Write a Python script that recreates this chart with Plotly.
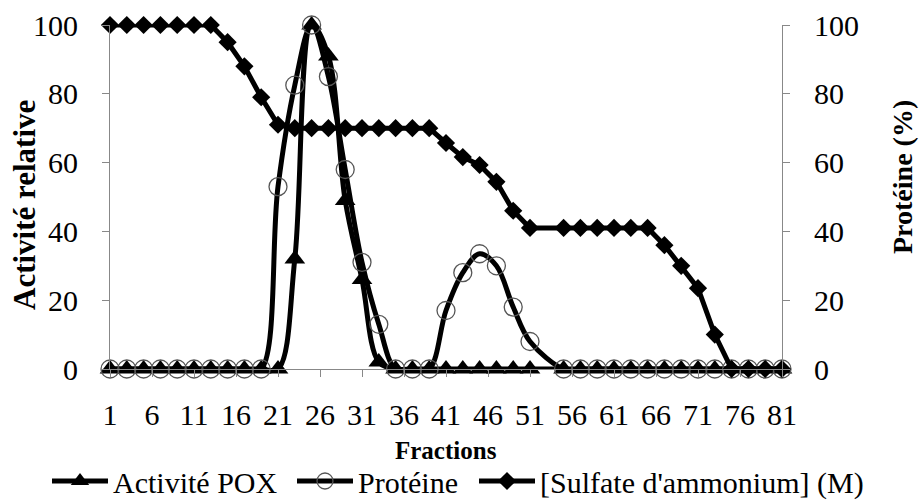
import plotly.graph_objects as go

fractions = [1, 3, 5, 7, 9, 11, 13, 15, 17, 19, 21, 23, 25, 27, 29, 31, 33, 35, 37, 39,
             41, 43, 45, 47, 49, 51, 55, 57, 59, 61, 63, 65, 67, 69, 71, 73, 75, 77, 79, 81]
activite_pox = [0, 0, 0, 0, 0, 0, 0, 0, 0, 0, 0, 32, 100, 91, 49, 26, 2, 0, 0, 0,
                0, 0, 0, 0, 0, 0, 0, 0, 0, 0, 0, 0, 0, 0, 0, 0, 0, 0, 0, 0]
proteine = [0, 0, 0, 0, 0, 0, 0, 0, 0, 0, 53, 82.5, 100, 85, 58, 31, 13, 0, 0, 0,
            17, 28, 33.5, 30, 18, 8, 0, 0, 0, 0, 0, 0, 0, 0, 0, 0, 0, 0, 0, 0]
sulfate = [100, 100, 100, 100, 100, 100, 100, 95, 88, 79, 71, 70, 70, 70, 70, 70, 70, 70, 70, 70,
           65.7, 61.6, 59.3, 54.4, 46, 41, 41, 41, 41, 41, 41, 41, 36, 30, 23.5, 10, 0, 0, 0, 0]
x_ticks = [1, 6, 11, 16, 21, 26, 31, 36, 41, 46, 51, 56, 61, 66, 71, 76, 81]
y_ticks = [0, 20, 40, 60, 80, 100]

FONT = "Liberation Serif"
W, H = 920, 501
L, R, T, B = 110, 138, 25, 132
pw, ph = W - L - R, H - T - B


def px(xp):
    return (xp - L) / pw


def py(yp):
    return (H - B - yp) / ph


fig = go.Figure()
fig.add_trace(go.Scatter(
    x=fractions, y=activite_pox, name="Activité POX", mode="lines+markers", legend="legend",
    line=dict(color="black", width=5, shape="spline", smoothing=1),
    marker=dict(symbol="triangle-up", size=18, color="black"),
    cliponaxis=False))
fig.add_trace(go.Scatter(
    x=fractions, y=proteine, name="Protéine", mode="lines+markers", yaxis="y2", legend="legend2",
    line=dict(color="black", width=5, shape="spline", smoothing=1),
    marker=dict(symbol="circle-open", size=18, color="#555555", line=dict(width=1.3, color="#555555")),
    cliponaxis=False))
fig.add_trace(go.Scatter(
    x=fractions, y=sulfate, name="[Sulfate d'ammonium] (M)", mode="lines+markers", yaxis="y2",
    legend="legend3",
    line=dict(color="black", width=5),
    marker=dict(symbol="diamond", size=14, color="black"),
    cliponaxis=False))

axis_common = dict(range=[0, 100], tickvals=y_ticks, showgrid=False, zeroline=False,
                   showline=True, linecolor="#888888", linewidth=1, ticks="outside",
                   ticklen=7, tickcolor="#888888",
                   tickfont=dict(family=FONT, size=30, color="black"),
                   ticklabelstandoff=18)

leg_font = dict(family=FONT, size=30, color="black")


def leg(xp):
    return dict(orientation="h", x=px(xp), xanchor="left", y=py(481), yanchor="middle",
                font=leg_font, itemwidth=56, bgcolor="rgba(0,0,0,0)")


fig.update_layout(
    width=W, height=H, margin=dict(l=L, r=R, t=T, b=B, autoexpand=False),
    paper_bgcolor="white", plot_bgcolor="white",
    showlegend=True,
    legend=leg(47), legend2=leg(292), legend3=leg(474),
    xaxis=dict(range=[1, 81], tickvals=x_ticks, showgrid=False, zeroline=False,
               showline=True, linecolor="#888888", linewidth=1, ticks="outside",
               ticklen=7, tickcolor="#888888",
               tickfont=dict(family=FONT, size=30, color="black"),
               ticklabelstandoff=12),
    yaxis=axis_common,
    yaxis2=dict(axis_common, overlaying="y", side="right"),
    annotations=[
        dict(text="<b>Activité relative</b>", x=px(24), y=py(205), xref="paper", yref="paper",
             xanchor="center", yanchor="middle",
             textangle=-90, showarrow=False, font=dict(family=FONT, size=31, color="black")),
        dict(text="<b>Protéine (%)</b>", x=px(902), y=py(177), xref="paper", yref="paper",
             xanchor="center", yanchor="middle",
             textangle=-90, showarrow=False, font=dict(family=FONT, size=28, color="black")),
        dict(text="<b>Fractions</b>", x=px(446), y=py(450), xref="paper", yref="paper",
             xanchor="center", yanchor="middle",
             showarrow=False, font=dict(family=FONT, size=25, color="black")),
    ],
)

fig.write_html("out.html")
